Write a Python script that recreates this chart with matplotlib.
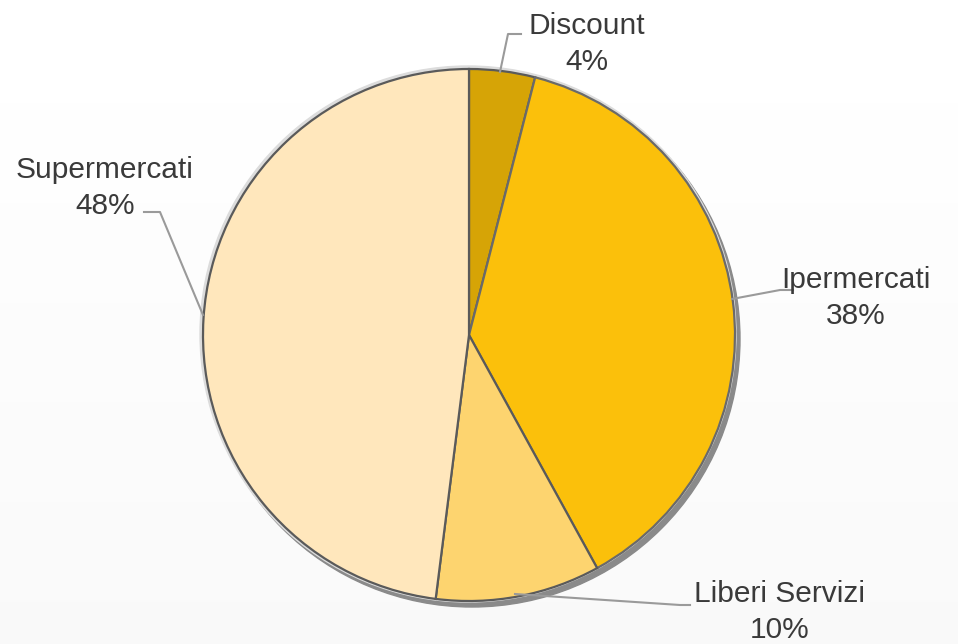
import matplotlib.pyplot as plt
import numpy as np

plt.rcParams['font.family'] = ['Liberation Sans', 'DejaVu Sans']

labels = ['Discount', 'Ipermercati', 'Liberi Servizi', 'Supermercati']
values = [4, 38, 10, 48]
colors = ['#D6A406', '#FBC00B', '#FDD46F', '#FFE7BC']

# label text centre and leader line points (pixel coords, y from top)
label_pos = [(587, 44), (856, 298), (780, 612), (105, 188)]
leaders = [
    [(500, 72), (508, 34), (521, 34)],
    [(732, 299), (780, 290), (793, 290)],
    [(515, 594), (680, 605), (690, 605)],
    [(203, 315), (160, 212), (144, 212)],
]

W, H = 958, 644
cx, cy, r = 469, 335, 266

fig = plt.figure(figsize=(W / 100, H / 100), dpi=100)
ax = fig.add_axes([0, 0, 1, 1])

# soft background
bg = np.linspace(1.0, 0.975, 200)[:, None] * np.ones((1, 200))
ax.imshow(bg, extent=(0, W, H, 0), cmap='gray', vmin=0, vmax=1, zorder=0)

# drop shadow and light rim
ax.add_patch(plt.Circle((cx + 3, cy + 4), r + 2, color='#8a8a8a', zorder=1))
ax.add_patch(plt.Circle((cx - 1, cy - 1), r + 2, color='#dcdcdc', zorder=1))

# y axis is inverted, so counterclock=True runs clockwise on screen
wedges, _ = ax.pie(values, colors=colors, startangle=-90, counterclock=True,
                   center=(cx, cy), radius=r, frame=True,
                   wedgeprops=dict(edgecolor='#5a5a5a', linewidth=1.6))
for w in wedges:
    w.set_zorder(2)
# light seam between Discount and Ipermercati
wedges[1].set_edgecolor('#6a6a6a')

ax.set_xlim(0, W)
ax.set_ylim(H, 0)
ax.set_aspect('equal')
ax.axis('off')

for lab, v, (tx, ty), pts in zip(labels, values, label_pos, leaders):
    xs, ys = zip(*pts)
    ax.plot(xs, ys, color='#9a9a9a', lw=1.5, zorder=3)
    ax.text(tx, ty, f'{lab}\n{v}%', ha='center', va='center',
            fontsize=21.5, color='#3a3a3a', linespacing=1.4, zorder=4)

fig.savefig('out.png', dpi=100)
